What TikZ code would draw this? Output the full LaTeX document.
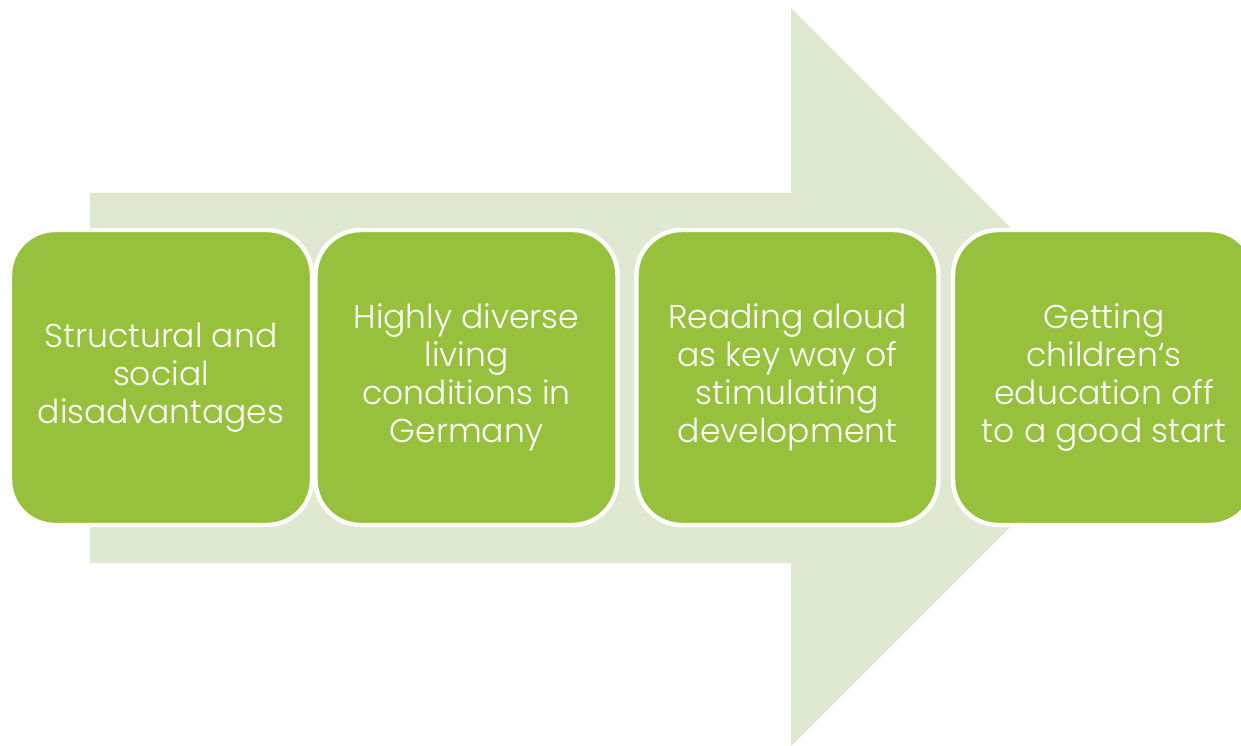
\documentclass[tikz,border=0pt]{standalone}
\usepackage{fontspec}
\setmainfont{Poppins}[UprightFont=* Light]
\usepackage{tikz}
\definecolor{pale}{RGB}{223, 232, 208}
\definecolor{leaf}{RGB}{151, 193, 61}
\tikzset{stage/.style={rectangle, rounded corners=0.9cm, fill=leaf, draw=white,
    line width=2.5pt, minimum width=6.04cm, minimum height=5.9cm, text=white,
    align=center, font=\fontsize{18.8}{21.6}\selectfont}}

\begin{document}
\begin{tikzpicture}[x=0.02cm, y=-0.02cm]

  \useasboundingbox (0, 0) rectangle (1241, 746);
  \clip (0, 0) rectangle (1241, 746);

  % big arrow behind the steps
  \fill[pale] (90, 193) -- (791, 193) -- (791, 8) -- (1160, 377) --
              (791, 746) -- (791, 563) -- (90, 563) -- cycle;

  \node[stage] (s1) at (161, 377.5) { Structural and\\social\\disadvantages };
  \node[stage] (s2) at (466.5, 377.5) { Highly diverse\\living\\conditions in\\Germany };
  \node[stage] (s3) at (787.5, 377.5) { Reading aloud\\as key way of\\stimulating\\development };
  \node[stage] (s4) at (1104, 377.5) { Getting\\children‘s\\education off\\to a good start };

\end{tikzpicture}
\end{document}
